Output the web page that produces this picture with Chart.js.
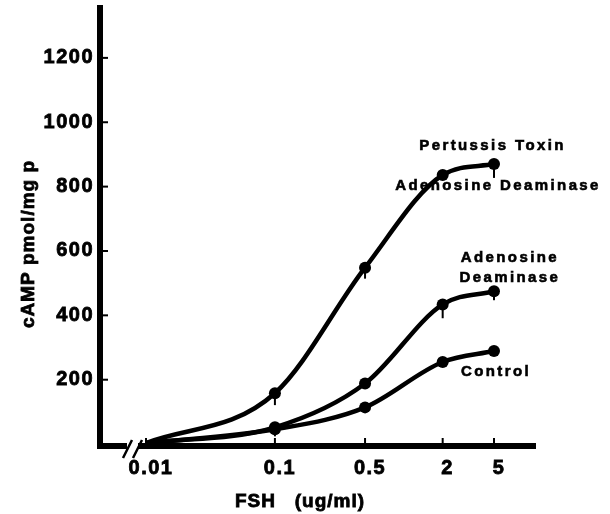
<!DOCTYPE html>
<html>
<head>
<meta charset="utf-8">
<script src="https://cdn.jsdelivr.net/npm/chart.js@4.4.1/dist/chart.umd.min.js"></script>
<style>
  html, body { margin: 0; padding: 0; background: #fff; }
  #wrap { width: 610px; height: 514px; }
</style>
</head>
<body>
<div id="wrap"><canvas id="myChart"></canvas></div>
<script>
const doses = [0.01, 0.1, 0.5, 2, 5]
const doseTicks = [0.01, 0.1, 0.5, 2, 5]
const camTicks = [200, 400, 600, 800, 1000, 1200]

const pertussisAda = [3, 158, 548, 836, 870]
const adenosineDeaminase = [3, 52, 188, 434, 475]
const control = [3, 46, 114, 255, 289]

// only the lower half of the error bars shows in the figure
const pertussisAdaErr = [0, 37, 34, 0, 43]
const adenosineDeaminaseErr = [0, 28, 0, 43, 28]
const controlErr = [0, 0, 0, 0, 0]

const xTitle = 'FSH   (ug/ml)'
const yTitle = 'cAMP pmol/mg p'

// curve labels, anchored in data units
const notes = [
  { lines: ['Pertussis Toxin'], x: 4.77, y: 927 },
  { lines: ['Adenosine Deaminase'], x: 5.26, y: 803 },
  { lines: ['Adenosine', 'Deaminase'], x: 6.5, y: 580 },
  { lines: ['Control'], x: 5.07, y: 223 }
]

const FONT = 'Liberation Sans, Arial, Helvetica, sans-serif'

const toPoints = (vals) => doses.map((d, i) => ({ x: d, y: vals[i] }))

const makeDataset = (label, vals, err) => ({
  label: label,
  data: toPoints(vals),
  err: err,
  borderColor: '#000',
  backgroundColor: '#000',
  borderWidth: 4.5,
  pointRadius: vals.map((v, i) => i === 0 ? 0 : 6),
  pointBackgroundColor: '#000',
  pointBorderWidth: 0,
  cubicInterpolationMode: 'monotone',
  clip: false
})

const boldText = (ctx, t, x, y, w) => {
  ctx.lineWidth = w
  ctx.strokeText(t, x, y)
  ctx.fillText(t, x, y)
}

const decor = {
  id: 'decor',
  beforeDraw: (chart) => {
    chart.ctx.letterSpacing = '1.5px'
  },
  afterDatasetsDraw: (chart) => {
    const ctx = chart.ctx
    const x = chart.scales.x
    const y = chart.scales.y
    ctx.save()
    ctx.strokeStyle = '#000'
    ctx.lineWidth = 2
    chart.data.datasets.forEach((ds) => {
      ds.err.forEach((e, i) => {
        if (!e) return
        const px = x.getPixelForValue(doses[i])
        ctx.beginPath()
        ctx.moveTo(px, y.getPixelForValue(ds.data[i].y))
        ctx.lineTo(px, y.getPixelForValue(ds.data[i].y - e))
        ctx.stroke()
      })
    })
    ctx.restore()
  },
  afterDraw: (chart) => {
    const ctx = chart.ctx
    const x = chart.scales.x
    const y = chart.scales.y
    const area = chart.chartArea
    ctx.save()
    ctx.strokeStyle = '#000'
    ctx.lineWidth = 2
    // inward tick marks
    doseTicks.forEach((v) => {
      const px = x.getPixelForValue(v)
      ctx.beginPath()
      ctx.moveTo(px, area.bottom)
      ctx.lineTo(px, area.bottom - 8)
      ctx.stroke()
    })
    camTicks.forEach((v) => {
      const py = y.getPixelForValue(v)
      ctx.beginPath()
      ctx.moveTo(area.left - 3, py)
      ctx.lineTo(area.left + 8, py)
      ctx.stroke()
    })
    // axis break
    ctx.fillStyle = '#fff'
    ctx.fillRect(area.left + 27, area.bottom - 4, 11, 8)
    ctx.lineWidth = 2.5
    ctx.beginPath()
    ctx.moveTo(area.left + 23, area.bottom + 12)
    ctx.lineTo(area.left + 32, area.bottom - 6)
    ctx.moveTo(area.left + 33, area.bottom + 12)
    ctx.lineTo(area.left + 42, area.bottom - 6)
    ctx.stroke()

    // curve labels
    ctx.fillStyle = '#000'
    ctx.textAlign = 'center'
    ctx.textBaseline = 'middle'
    ctx.font = 'bold 15px ' + FONT
    ctx.letterSpacing = '2.4px'
    notes.forEach((n) => {
      const px = x.getPixelForValue(n.x)
      const py = y.getPixelForValue(n.y)
      n.lines.forEach((t, k) => boldText(ctx, t, px + 1.2, py + k * 20, 0.6))
    })

    // axis titles
    ctx.font = 'bold 19px ' + FONT
    ctx.letterSpacing = '1px'
    boldText(ctx, xTitle, 300, 502, 0.8)
    ctx.translate(29, 244)
    ctx.rotate(-Math.PI / 2)
    boldText(ctx, yTitle, 0, 0, 0.8)
    ctx.restore()
  }
}

new Chart(document.getElementById('myChart'), {
  type: 'line',
  data: {
    datasets: [
      makeDataset('Pertussis Toxin + Adenosine Deaminase', pertussisAda, pertussisAdaErr),
      makeDataset('Adenosine Deaminase', adenosineDeaminase, adenosineDeaminaseErr),
      makeDataset('Control', control, controlErr)
    ]
  },
  options: {
    responsive: true,
    maintainAspectRatio: false,
    animation: false,
    layout: { padding: { top: 8, right: 75, left: 0, bottom: 0 } },
    plugins: { legend: { display: false }, tooltip: { enabled: false } },
    scales: {
      x: {
        type: 'logarithmic',
        min: 0.0044,
        max: 10.4,
        afterBuildTicks: (s) => { s.ticks = doseTicks.map((v) => ({ value: v })) },
        afterFit: (s) => {
          s.height = 68
          s.paddingLeft = 0
          s.paddingRight = 0
        },
        grid: { display: false, drawTicks: false },
        border: { display: true, color: '#000', width: 6 },
        ticks: {
          color: '#000',
          padding: 10,
          labelOffset: 5,
          maxRotation: 0,
          autoSkip: false,
          textStrokeColor: '#000',
          textStrokeWidth: 0.8,
          font: { family: FONT, size: 20, weight: 'bold' },
          callback: (v) => String(v)
        }
      },
      y: {
        min: -6,
        max: 1355,
        afterBuildTicks: (s) => { s.ticks = camTicks.map((v) => ({ value: v })) },
        afterFit: (s) => {
          s.width = 100
          s.paddingTop = 0
          s.paddingBottom = 0
        },
        grid: { display: false, drawTicks: false },
        border: { display: true, color: '#000', width: 6 },
        ticks: {
          color: '#000',
          padding: 6,
          textStrokeColor: '#000',
          textStrokeWidth: 0.8,
          font: { family: FONT, size: 20, weight: 'bold' },
          callback: (v) => String(v)
        }
      }
    }
  },
  plugins: [decor]
})
</script>
</body>
</html>
